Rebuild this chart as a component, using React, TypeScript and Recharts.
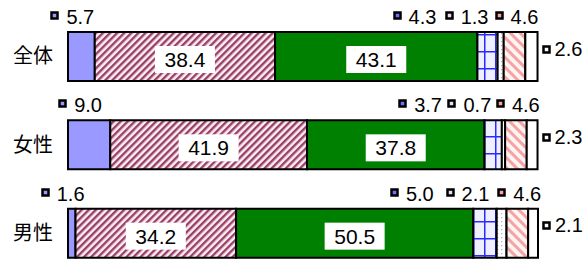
import { Bar, BarChart, XAxis, YAxis } from "recharts";

const categories = ["全体", "女性", "男性"];
const seg1 = [5.7, 9.0, 1.6];
const seg2 = [38.4, 41.9, 34.2];
const seg3 = [43.1, 37.8, 50.5];
const seg4 = [4.3, 3.7, 5.0];
const seg5 = [1.3, 0.7, 2.1];
const seg6 = [4.6, 4.6, 4.6];
const seg7 = [2.6, 2.3, 2.1];

const NUM_FONT = "'Liberation Sans', Arial, 'Noto Sans CJK JP', sans-serif";

type Placement = "top" | "inside" | "right";

const series: {
  key: string;
  values: number[];
  fill: string;
  marker: string;
  place: Placement;
  dx?: number;
}[] = [
  { key: "s1", values: seg1, fill: "#9999ff", marker: "#9999ff", place: "top", dx: -30 },
  { key: "s2", values: seg2, fill: "url(#hatchMaroon)", marker: "#993366", place: "inside" },
  { key: "s3", values: seg3, fill: "#008000", marker: "#008000", place: "inside" },
  { key: "s4", values: seg4, fill: "url(#gridBlue)", marker: "#6f6fff", place: "top", dx: -94 },
  { key: "s5", values: seg5, fill: "url(#dotsGrey)", marker: "#eadcee", place: "top", dx: -55 },
  { key: "s6", values: seg6, fill: "url(#hatchPink)", marker: "#ffa0a0", place: "top", dx: -19 },
  { key: "s7", values: seg7, fill: "#ffffff", marker: "#ffffff", place: "right" },
];

const data = categories.map((name, i) => {
  const row: Record<string, string | number> = { name };
  series.forEach((s) => {
    row[s.key] = s.values[i];
  });
  return row;
});

// small square key drawn next to each outside label
function Marker({ x, y, fill }: { x: number; y: number; fill: string }) {
  const rx = Math.round(x) + 0.5;
  const ry = Math.round(y) + 0.5;
  return <rect x={rx} y={ry} width={6} height={6} fill={fill} stroke="#000" strokeWidth={2.5} />;
}

function SegLabel(props: any) {
  const { s } = props;
  const x = Number(props.x);
  const y = Number(props.y);
  const w = Number(props.width);
  const h = Number(props.height);
  const i = Number(props.index);
  const text = s.values[i].toFixed(1);

  if (s.place === "inside") {
    const cx = x + w / 2;
    return (
      <g>
        <rect x={cx - 30} y={y + 14} width={60} height={27} fill="#ffffff" />
        <text x={cx} y={y + 35} textAnchor="middle" fontSize={21} fill="#000" fontFamily={NUM_FONT}>
          {text}
        </text>
      </g>
    );
  }
  if (s.place === "right") {
    const c = y + h / 2 - 8;
    return (
      <g>
        <Marker x={x + w + 5} y={c - 3} fill={s.marker} />
        <text x={x + w + 17} y={c + 7} fontSize={20} fill="#000" fontFamily={NUM_FONT}>
          {text}
        </text>
      </g>
    );
  }
  const mx = x + w / 2 + (s.dx ?? 0);
  return (
    <g>
      <Marker x={mx} y={y - 20} fill={s.marker} />
      <text x={mx + 15} y={y - 8} fontSize={20} fill="#000" fontFamily={NUM_FONT}>
        {text}
      </text>
    </g>
  );
}

export default function App() {
  return (
    <div style={{ width: 588, height: 259, overflow: "hidden", background: "#fff" }}>
      <style>{"body{margin:0}"}</style>
      <BarChart
        width={588}
        height={277}
        data={data}
        layout="vertical"
        margin={{ top: 12, right: 50, left: 0, bottom: 0 }}
      >
        <defs>
          <pattern id="hatchMaroon" width="5" height="5" patternUnits="userSpaceOnUse" patternTransform="rotate(45)">
            <rect width="5" height="5" fill="#fbeef3" />
            <rect width="2.4" height="5" fill="#9a3f66" />
          </pattern>
          <pattern id="hatchPink" width="7" height="7" patternUnits="userSpaceOnUse" patternTransform="rotate(-45)">
            <rect width="7" height="7" fill="#fff4f4" />
            <rect width="3" height="7" fill="#f5a3a3" />
          </pattern>
          <pattern id="gridBlue" width="11" height="17" patternUnits="userSpaceOnUse">
            <rect width="11" height="17" fill="#eef0ff" />
            <rect x="0" y="0" width="1.5" height="17" fill="#2a2aff" />
            <rect x="0" y="0" width="11" height="1.5" fill="#2a2aff" />
          </pattern>
          <pattern id="dotsGrey" width="4" height="4" patternUnits="userSpaceOnUse">
            <rect width="4" height="4" fill="#ffffff" />
            <rect x="1" y="1" width="1.2" height="1.2" fill="#b9a8c0" />
          </pattern>
        </defs>
        <XAxis type="number" hide domain={[0, 100]} />
        <YAxis
          type="category"
          dataKey="name"
          width={68}
          axisLine={false}
          tickLine={false}
          tickSize={0}
          tickMargin={15}
          tick={{ fontSize: 20, fill: "#000", fontFamily: "'Noto Sans CJK JP', sans-serif" }}
        />
        {series.map((s) => (
          <Bar
            key={s.key}
            dataKey={s.key}
            stackId="a"
            barSize={49}
            fill={s.fill}
            stroke="#000"
            strokeWidth={2}
            isAnimationActive={false}
            label={(p: any) => <SegLabel {...p} s={s} />}
          />
        ))}
      </BarChart>
    </div>
  );
}
